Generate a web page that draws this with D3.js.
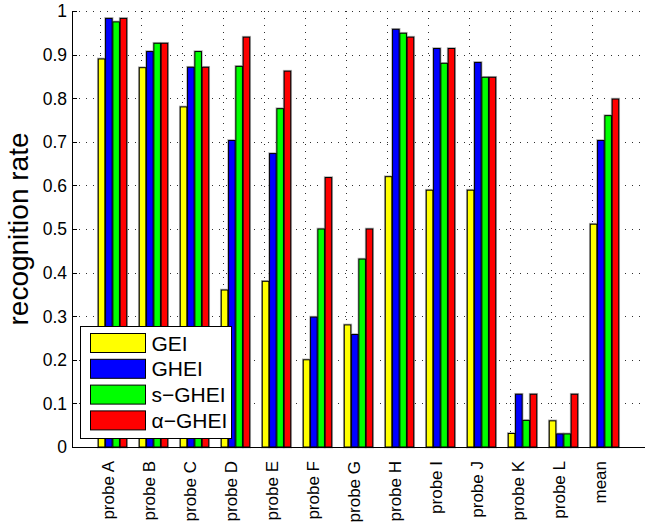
<!DOCTYPE html>
<html>
<head>
<meta charset="utf-8">
<script src="https://cdn.jsdelivr.net/npm/d3@7"></script>
<style>
  body { margin: 0; background: #fff; }
  svg { display: block; }
  text { font-family: "Liberation Sans", Arial, Helvetica, sans-serif; fill: #000; }
</style>
</head>
<body>
<svg id="chart" width="645" height="527"></svg>
<script>
// Probe sets along the x axis
const categories = ["probe A", "probe B", "probe C", "probe D", "probe E", "probe F",
                    "probe G", "probe H", "probe I", "probe J", "probe K", "probe L", "mean"];

// Recognition rate per method
const gei       = [0.890, 0.870, 0.780, 0.360, 0.380, 0.200, 0.280, 0.620, 0.589, 0.589, 0.031, 0.060, 0.511];
const ghei      = [0.983, 0.907, 0.871, 0.703, 0.673, 0.298, 0.258, 0.958, 0.914, 0.882, 0.121, 0.030, 0.703];
const sGhei     = [0.975, 0.926, 0.907, 0.873, 0.776, 0.500, 0.431, 0.949, 0.880, 0.848, 0.061, 0.030, 0.760];
const alphaGhei = [0.983, 0.926, 0.871, 0.940, 0.862, 0.618, 0.500, 0.940, 0.914, 0.848, 0.121, 0.121, 0.798];

const seriesNames  = ["GEI", "GHEI", "s\u2212GHEI", "\u03B1\u2212GHEI"];
const seriesColors = ["#ffff00", "#0000ff", "#00ff00", "#ff0000"];
const seriesValues = [gei, ghei, sGhei, alphaGhei];

const yTicks      = [0, 0.1, 0.2, 0.3, 0.4, 0.5, 0.6, 0.7, 0.8, 0.9, 1];
const yTickLabels = ["0", "0.1", "0.2", "0.3", "0.4", "0.5", "0.6", "0.7", "0.8", "0.9", "1"];
const yLabel = "recognition rate";

const svg = d3.select("#chart");

// Group k (1-based) sits at x(k); the axis spans 0..14 group units
const x = d3.scaleLinear().domain([0, 14]).range([71.5, 645.5]);
const y = d3.scaleLinear().domain([0, 1]).range([447, 11]);

const barStep = 0.178;   // distance between bars within a group (group units)
const barWidth = 0.16;   // bar width (group units)
const gridOffset = -0.3; // vertical grid lines sit slightly left of group centres

const plotLeft = 72, plotRight = 645;

// Dotted grid
const grid = svg.append("g").attr("stroke", "#303030").attr("stroke-width", 1)
  .attr("stroke-dasharray", "1,6").attr("shape-rendering", "crispEdges");
grid.selectAll("line.h").data(yTicks.filter(d => d > 0)).join("line")
  .attr("class", "h")
  .attr("x1", plotLeft).attr("x2", plotRight)
  .attr("y1", d => Math.round(y(d)) + 0.5).attr("y2", d => Math.round(y(d)) + 0.5);
grid.selectAll("line.v").data(categories).join("line")
  .attr("class", "v")
  .attr("x1", (d, i) => Math.round(x(i + 1 + gridOffset)) + 0.5)
  .attr("x2", (d, i) => Math.round(x(i + 1 + gridOffset)) + 0.5)
  .attr("y1", y(1)).attr("y2", y(0));

// Bars: a soft grey halo under a black 1px edge
const bars = seriesValues.flatMap((vals, s) =>
  vals.map((v, i) => ({ s, i, v })));

function barX(d) { return x(d.i + 1 + (d.s - 1.5) * barStep - barWidth / 2); }
const bw = x(barWidth) - x(0);

svg.append("g").selectAll("rect").data(bars).join("rect")
  .attr("x", barX).attr("width", bw)
  .attr("y", d => y(d.v)).attr("height", d => y(0) - y(d.v))
  .attr("fill", "none").attr("stroke", "#b0b0b0").attr("stroke-width", 2.6);

svg.append("g").selectAll("rect").data(bars).join("rect")
  .attr("x", barX).attr("width", bw)
  .attr("y", d => y(d.v)).attr("height", d => y(0) - y(d.v))
  .attr("fill", d => seriesColors[d.s]).attr("stroke", "#000").attr("stroke-width", 1);

// Axes: left and bottom lines with inward ticks
svg.append("line").attr("x1", plotLeft + 0.5).attr("x2", plotLeft + 0.5)
  .attr("y1", y(1)).attr("y2", y(0) + 0.5).attr("stroke", "#000").attr("stroke-width", 1);
svg.append("line").attr("x1", plotLeft).attr("x2", plotRight)
  .attr("y1", y(0) + 0.5).attr("y2", y(0) + 0.5).attr("stroke", "#000").attr("stroke-width", 1);

svg.append("g").selectAll("line").data(yTicks).join("line")
  .attr("x1", plotLeft).attr("x2", plotLeft + 5)
  .attr("y1", d => Math.round(y(d)) + 0.5).attr("y2", d => Math.round(y(d)) + 0.5)
  .attr("stroke", "#000").attr("stroke-width", 1);

svg.append("g").selectAll("text").data(yTicks).join("text")
  .attr("x", 67).attr("y", d => y(d)).attr("dy", "0.36em")
  .attr("text-anchor", "end").attr("font-size", 17.5)
  .text((d, i) => yTickLabels[i]);

// Rotated category labels
svg.append("g").selectAll("text").data(categories).join("text")
  .attr("transform", (d, i) => `translate(${x(i + 1) + 1.2},461) rotate(-90)`)
  .attr("text-anchor", "end").attr("font-size", 17)
  .text(d => d);

// Y axis title
svg.append("text")
  .attr("transform", "translate(28,229) rotate(-90)")
  .attr("text-anchor", "middle").attr("font-size", 28)
  .text(yLabel);

// Legend
const legend = svg.append("g");
legend.append("rect").attr("x", 80.5).attr("y", 326.5).attr("width", 151).attr("height", 112)
  .attr("fill", "#fff").attr("stroke", "#000").attr("stroke-width", 1);
const rows = legend.selectAll("g").data(seriesNames).join("g")
  .attr("transform", (d, i) => `translate(0,${343 + i * 25.8})`);
rows.append("rect").attr("x", 90.5).attr("y", -9.5).attr("width", 55).attr("height", 19)
  .attr("fill", (d, i) => seriesColors[i]).attr("stroke", "#000").attr("stroke-width", 1);
rows.append("text").attr("x", 151.5).attr("y", 0).attr("dy", "0.36em")
  .attr("font-size", 21).text(d => d);
</script>
</body>
</html>
